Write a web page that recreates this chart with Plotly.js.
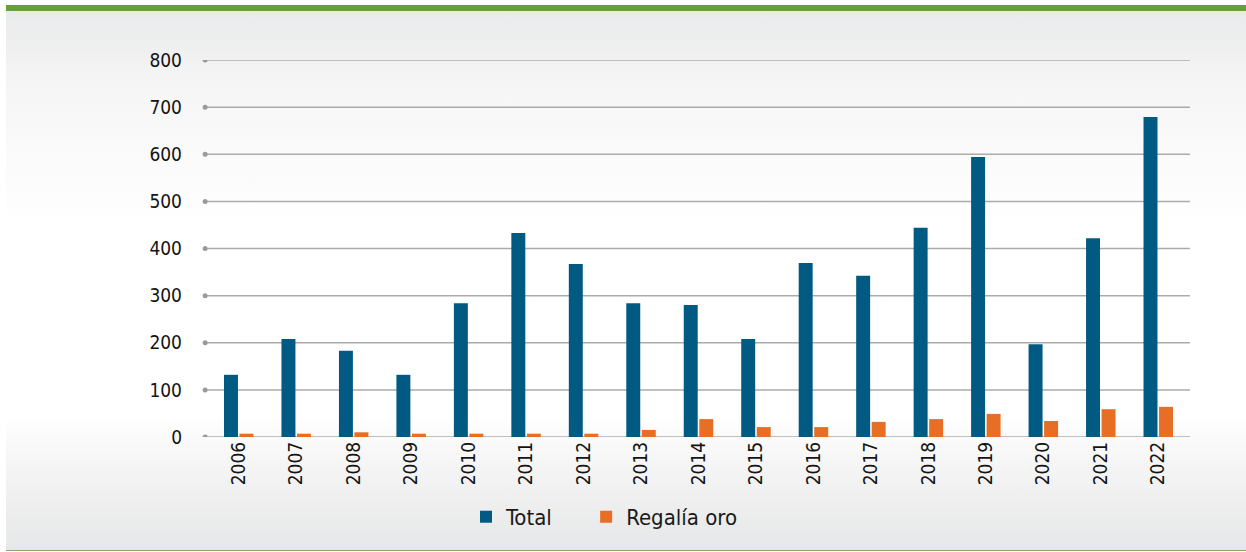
<!DOCTYPE html>
<html>
<head>
<meta charset="utf-8">
<script src="https://cdn.plot.ly/plotly-3.0.1.min.js"></script>
<style>
  html, body { margin: 0; padding: 0; background: #ffffff; }
  #wrap { position: relative; width: 1246px; height: 552px; overflow: hidden; }
  #bg { position: absolute; left: 6px; top: 5px; width: 1240px; height: 546px;
        border-top: 6px solid #67a03a; border-bottom: 1px solid #86a86a; box-sizing: border-box;
        background: linear-gradient(to bottom, #e9eaeb 0%, #f6f6f6 15%, #ffffff 40%, #ffffff 75%, #f4f4f4 85%, #e6e7e8 100%); }
  #chart { position: absolute; left: 0; top: 0; width: 1246px; height: 552px; }
</style>
</head>
<body>
<div id="wrap">
  <div id="bg"></div>
  <div id="chart"></div>
</div>
<script>
const years = ['2006','2007','2008','2009','2010','2011','2012','2013','2014','2015','2016','2017','2018','2019','2020','2021','2022'];
const total = [132, 208, 183, 132, 284, 433, 367, 284, 280, 208, 369, 342, 444, 594, 197, 422, 679];
const regaliaOro = [7, 7, 10, 7, 7, 7, 7, 15, 38, 21, 21, 32, 38, 49, 34, 59, 64];
const yTicks = [0, 100, 200, 300, 400, 500, 600, 700, 800];

const font = 'DejaVu Sans Condensed, Noto Sans, sans-serif';

const traces = [
  { type: 'bar', name: 'Total', x: years, y: total, marker: { color: '#005a81' }, hoverinfo: 'x+y', legend: 'legend' },
  { type: 'bar', name: 'Regalía oro', x: years, y: regaliaOro, marker: { color: '#e86e25' }, hoverinfo: 'x+y', legend: 'legend2' }
];

const shapes = [];
yTicks.forEach(v => {
  shapes.push({ type: 'line', xref: 'paper', yref: 'y', x0: -0.005, x1: 1.003, y0: v, y1: v,
                line: { color: '#ababab', width: 1.5 }, layer: 'below' });
  shapes.push({ type: 'circle', xref: 'paper', yref: 'y', xsizemode: 'pixel', ysizemode: 'pixel',
                xanchor: -0.005, yanchor: v, x0: -2.5, x1: 2.5, y0: -2.5, y1: 2.5,
                fillcolor: '#9a9a9a', line: { width: 0 }, layer: 'below' });
});

const legendFont = { family: font, size: 22, color: '#1a1a1a' };

const layout = {
  width: 1246, height: 552,
  margin: { l: 210, r: 59, t: 60, b: 115 },
  paper_bgcolor: 'rgba(0,0,0,0)',
  plot_bgcolor: 'rgba(0,0,0,0)',
  barmode: 'group',
  bargap: 0.46,
  bargroupgap: 0.1,
  showlegend: true,
  legend: { orientation: 'h', x: 0.262, xanchor: 'left', y: -0.212, yanchor: 'middle',
            font: legendFont, itemwidth: 30, bgcolor: 'rgba(0,0,0,0)' },
  legend2: { orientation: 'h', x: 0.385, xanchor: 'left', y: -0.212, yanchor: 'middle',
            font: legendFont, itemwidth: 30, bgcolor: 'rgba(0,0,0,0)' },
  xaxis: { type: 'category', tickangle: -90, showgrid: false, zeroline: false, showline: false,
           ticks: '', tickfont: { family: font, size: 19, color: '#141414' }, fixedrange: true },
  yaxis: { range: [0, 800], tickvals: yTicks, ticktext: yTicks.map(String), showgrid: false,
           zeroline: false, showline: false, ticks: '', ticklabelstandoff: 27,
           tickfont: { family: font, size: 19, color: '#141414' }, fixedrange: true },
  shapes: shapes
};

Plotly.newPlot('chart', traces, layout, { displayModeBar: false, staticPlot: true });
</script>
</body>
</html>
